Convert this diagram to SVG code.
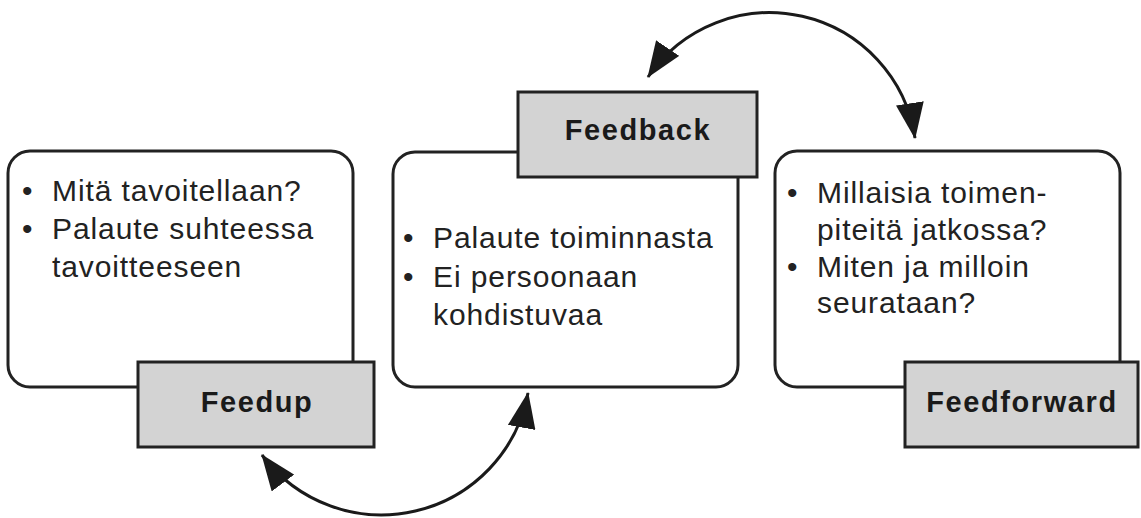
<svg xmlns="http://www.w3.org/2000/svg" width="1141" height="518" viewBox="0 0 1141 518">
  <style>
    .box { fill: #ffffff; stroke: #222222; stroke-width: 3; }
    .label { fill: #d3d3d3; stroke: #222222; stroke-width: 3; }
    .body { font-family: "Liberation Sans", Arial, Helvetica, sans-serif; font-size: 30px; letter-spacing: 0.9px; fill: #222222; }
    .title { font-family: "Liberation Sans", Arial, Helvetica, sans-serif; font-size: 29px; font-weight: bold; letter-spacing: 1.6px; fill: #1a1a1a; text-anchor: middle; }
    .conn { fill: none; stroke: #1a1a1a; stroke-width: 3; }
  </style>
  <defs>
    <marker id="arrow" markerUnits="userSpaceOnUse" markerWidth="36" markerHeight="28" viewBox="0 0 36 28" refX="35" refY="14" orient="auto-start-reverse">
      <path d="M0,0 L36,14 L0,28 Z" fill="#1a1a1a"/>
    </marker>
  </defs>
  <rect width="1141" height="518" fill="#ffffff"/>

  <g id="feedup">
    <rect class="box" x="8" y="151" width="345" height="236" rx="22" ry="22"/>
    <text class="body"><tspan x="22" y="201">•</tspan><tspan x="52" y="201">Mitä tavoitellaan?</tspan></text>
    <text class="body"><tspan x="22" y="239">•</tspan><tspan x="52" y="239">Palaute suhteessa</tspan></text>
    <text class="body" x="52" y="277">tavoitteeseen</text>
    <rect class="label" x="138" y="362" width="236" height="85"/>
    <text class="title" x="257" y="412">Feedup</text>
  </g>

  <g id="feedback">
    <rect class="box" x="393" y="152" width="345" height="235" rx="22" ry="22"/>
    <text class="body"><tspan x="403" y="248">•</tspan><tspan x="433" y="248">Palaute toiminnasta</tspan></text>
    <text class="body"><tspan x="403" y="287">•</tspan><tspan x="433" y="287">Ei persoonaan</tspan></text>
    <text class="body" x="433" y="325">kohdistuvaa</text>
    <rect class="label" x="518" y="92" width="239" height="85"/>
    <text class="title" x="638" y="140">Feedback</text>
  </g>

  <g id="feedforward">
    <rect class="box" x="775" y="151" width="345" height="236" rx="22" ry="22"/>
    <text class="body"><tspan x="787" y="203">•</tspan><tspan x="817" y="203">Millaisia toimen-</tspan></text>
    <text class="body" x="817" y="240">piteitä jatkossa?</text>
    <text class="body"><tspan x="787" y="277">•</tspan><tspan x="817" y="277">Miten ja milloin</tspan></text>
    <text class="body" x="817" y="313">seurataan?</text>
    <rect class="label" x="905" y="362" width="233" height="85"/>
    <text class="title" x="1022" y="412">Feedforward</text>
  </g>

  <g id="connectors">
    <path class="conn" d="M648,77 A147,147 0 0 1 915,138" marker-start="url(#arrow)" marker-end="url(#arrow)"/>
    <path class="conn" d="M262,455 A149,149 0 0 0 528,393" marker-start="url(#arrow)" marker-end="url(#arrow)"/>
  </g>
</svg>
